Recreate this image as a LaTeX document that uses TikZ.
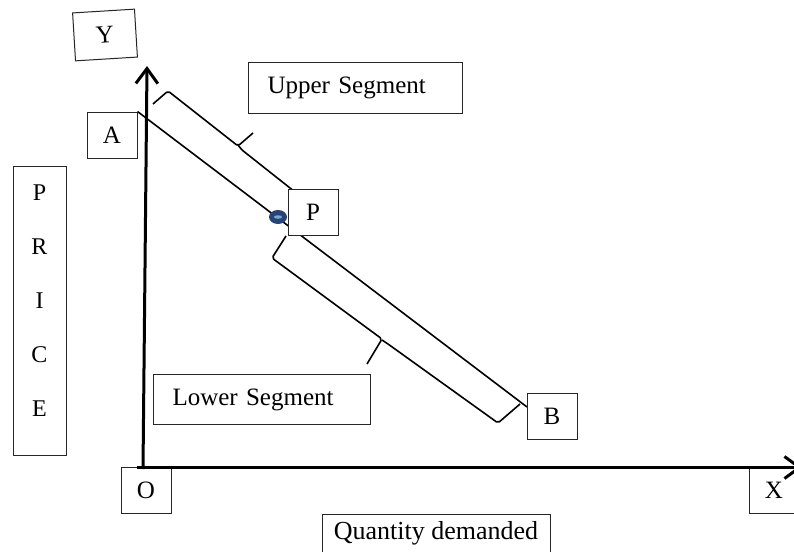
\documentclass[tikz,border=0pt]{standalone}
\usepackage{fontspec}
\setmainfont{Liberation Serif}
\usetikzlibrary{arrows.meta,shapes.geometric}
\definecolor{dotblue}{RGB}{38,68,118}
\definecolor{dotlight}{RGB}{125,165,215}
\begin{document}
\begin{tikzpicture}[x=1pt,y=-1pt,
  box/.style={draw=black!85, line width=1pt, fill=white, inner sep=0pt},
  lbl/.style={font=\fontsize{25}{30}\selectfont},
  seg/.style={font=\fontsize{25}{30}\selectfont},
  axis/.style={line width=3pt, -{Straight Barb[length=15pt,width=22pt]}},
  dline/.style={line width=1.6pt},
  bracestyle/.style={line width=1.6pt, line join=round, rounded corners=2pt}]
\useasboundingbox (0,0) rectangle (794,551);
\clip (0,0) rectangle (794,551);

% demand line
\node[box, lbl, minimum width=50pt, minimum height=46pt] (A) at (112,135) {A};
\coordinate (Bend) at (527,407);
\draw[dline] (A.north east) -- (Bend);

% braces
\draw[bracestyle] (153,104) -- (168,91) -- (238,146) -- (253,133);
\draw[bracestyle] (238,145) -- (242,150) -- (309,203) -- (300,220);
\draw[bracestyle] (286,236) -- (272,258) -- (382,339) -- (367,364);
\draw[bracestyle] (382,340) -- (388,344) -- (498,423) -- (520,404);

% point P
\node[ellipse, fill=dotblue, minimum width=18pt, minimum height=14pt, inner sep=0pt] (dot) at (278,217) {};
\node[ellipse, fill=dotlight, minimum width=8pt, minimum height=3.5pt, inner sep=0pt] (dothl) at (dot) {};

% boxes
\node[box, lbl, minimum width=62pt, minimum height=48pt, rotate=3.5] (Y) at (105,35) {Y};
\node[box, seg, anchor=north west, minimum height=51pt, text width=176pt, inner xsep=19pt, align=left] (US) at (248,62) {Upper Segment};
\node[box, lbl, minimum width=50pt, minimum height=46pt] (P) at (313,212) {P};
\node[box, seg, anchor=north west, minimum height=50pt, text width=179pt, inner xsep=19pt, align=left] (LS) at (153,374) {Lower Segment};
\node[box, lbl, minimum width=50pt, minimum height=46pt] (B) at (552,416) {B};
\node[box, lbl, minimum width=50pt, minimum height=46pt] (O) at (146,490) {O};
\node[box, lbl, minimum width=50pt, minimum height=46pt] (X) at (774,490) {X};
\node[box, font=\fontsize{26}{30}\selectfont, minimum width=228pt, minimum height=38pt] (QD) at (436,533) {Quantity demanded};
\node[box, minimum width=53pt, minimum height=289pt] (PRICE) at (39.5,310.5) {};
\node[font=\fontsize{24}{54}\selectfont, align=center, inner sep=0pt] (pricetxt) at (39.5,301) {P\\R\\I\\C\\E};

% axes
\coordinate (Oc) at (143,469);
\coordinate (Ytip) at (147,66);
\coordinate (Xs) at (137,467.5);
\coordinate (Xtip) at (802,467.5);
\draw[axis] (Oc) -- (Ytip);
\draw[axis] (Xs) -- (Xtip);
\end{tikzpicture}
\end{document}
